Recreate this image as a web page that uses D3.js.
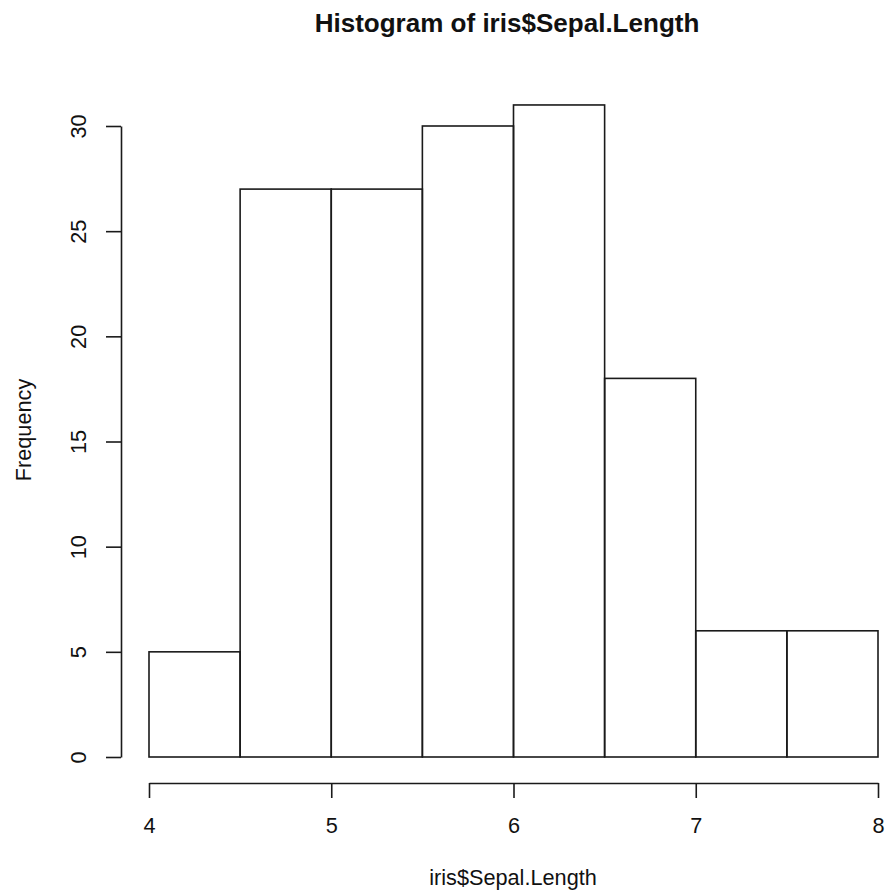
<!DOCTYPE html>
<html>
<head>
<meta charset="utf-8">
<script src="https://cdn.jsdelivr.net/npm/d3@7"></script>
<style>
  html, body { margin: 0; padding: 0; background: #fff; }
  svg { display: block; }
  text { font-family: "Liberation Sans", Arial, sans-serif; fill: #111; }
</style>
</head>
<body>
<svg id="chart" width="887" height="893"></svg>
<script>
// Histogram bins of iris Sepal.Length (breaks every 0.5) and their counts
const binStarts = [4.0, 4.5, 5.0, 5.5, 6.0, 6.5, 7.0, 7.5];
const binEnds   = [4.5, 5.0, 5.5, 6.0, 6.5, 7.0, 7.5, 8.0];
const counts    = [5, 27, 27, 30, 31, 18, 6, 6];
const xTicks = [4, 5, 6, 7, 8];
const yTicks = [0, 5, 10, 15, 20, 25, 30];

const titleText = "Histogram of iris$Sepal.Length";
const xLabel = "iris$Sepal.Length";
const yLabel = "Frequency";

const svg = d3.select("#chart");
const ink = "#1a1a1a";
const baseFont = 21.7;

const x = d3.scaleLinear().domain([4, 8]).range([149, 878]);
const y = d3.scaleLinear().domain([0, 30]).range([757, 126]);

// bars
svg.append("g")
  .selectAll("rect")
  .data(counts)
  .join("rect")
  .attr("x", (d, i) => x(binStarts[i]))
  .attr("width", (d, i) => x(binEnds[i]) - x(binStarts[i]))
  .attr("y", d => y(d))
  .attr("height", d => y(0) - y(d))
  .attr("fill", "none")
  .attr("stroke", ink)
  .attr("stroke-width", 1.6);

// x axis, set below the plot region
const xAxis = svg.append("g")
  .attr("transform", "translate(0,783)")
  .call(d3.axisBottom(x).tickValues(xTicks).tickFormat(d3.format("d"))
    .tickSize(15).tickSizeOuter(0).tickPadding(19.6));
xAxis.selectAll("path, line").attr("stroke", ink).attr("stroke-width", 1.6);
xAxis.selectAll("text").attr("font-size", baseFont).attr("fill", "#111")
  .style("font-family", "'Liberation Sans', Arial, sans-serif");

// y axis, labels turned to read upward
const yAxis = svg.append("g")
  .attr("transform", "translate(121,0)")
  .call(d3.axisLeft(y).tickValues(yTicks).tickFormat(d3.format("d"))
    .tickSize(15).tickSizeOuter(0));
yAxis.selectAll("path, line").attr("stroke", ink).attr("stroke-width", 1.6);
yAxis.selectAll("text")
  .attr("x", null).attr("dy", null)
  .attr("transform", "translate(-35,0) rotate(-90)")
  .attr("text-anchor", "middle")
  .attr("font-size", baseFont).attr("fill", "#111")
  .style("font-family", "'Liberation Sans', Arial, sans-serif");

// title and axis labels
svg.append("text")
  .attr("x", 507).attr("y", 32)
  .attr("text-anchor", "middle")
  .attr("font-size", baseFont * 1.2)
  .attr("font-weight", "bold")
  .text(titleText);

svg.append("text")
  .attr("x", 513).attr("y", 885)
  .attr("text-anchor", "middle")
  .attr("font-size", baseFont)
  .text(xLabel);

svg.append("text")
  .attr("transform", "translate(31,430) rotate(-90)")
  .attr("text-anchor", "middle")
  .attr("font-size", baseFont)
  .text(yLabel);
</script>
</body>
</html>
